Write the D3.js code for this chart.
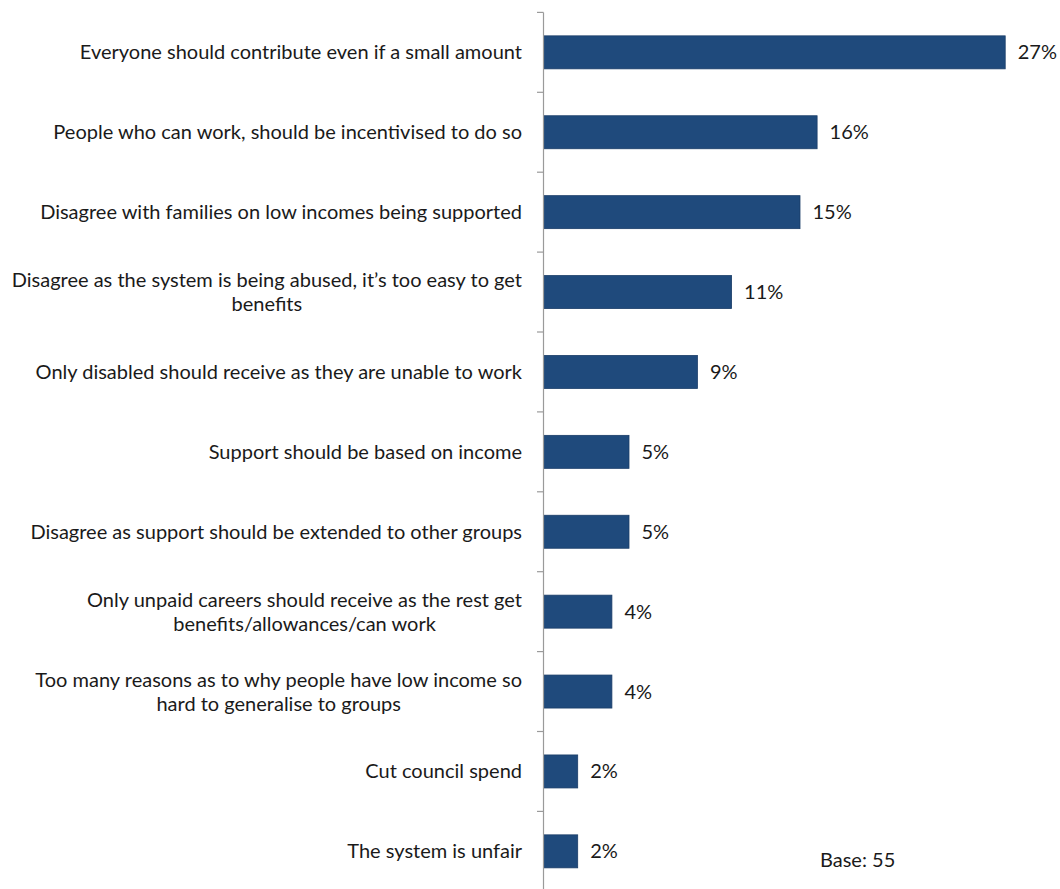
<!DOCTYPE html>
<html>
<head>
<meta charset="utf-8">
<script src="https://cdn.jsdelivr.net/npm/d3@7"></script>
<style>
  html, body { margin: 0; padding: 0; background: #fff; }
  svg { display: block; }
  text { font-family: Lato, "Open Sans", sans-serif; fill: #1a1a1a; }
</style>
</head>
<body>
<svg id="chart" width="1060" height="889"></svg>
<script>
// Reasons given (multi-line labels split on "\n")
const categories = [
  "Everyone should contribute even if a small amount",
  "People who can work, should be incentivised to do so",
  "Disagree with families on low incomes being supported",
  "Disagree as the system is being abused, it\u2019s too easy to get\nbenefits",
  "Only disabled should receive as they are unable to work",
  "Support should be based on income",
  "Disagree as support should be extended to other groups",
  "Only unpaid careers should receive as the rest get\nbenefits/allowances/can work",
  "Too many reasons as to why people have low income so\nhard to generalise to groups",
  "Cut council spend",
  "The system is unfair"
];
// Share of respondents, percent
const values = [27, 16, 15, 11, 9, 5, 5, 4, 4, 2, 2];
const baseNote = "Base: 55";

const svg = d3.select("#chart");
const fontSize = 20;
const lineHeight = 24;

const axisX = 543.5;
const x = d3.scaleLinear().domain([0, 30]).range([axisX, axisX + 30 * 17.1]);
const y = d3.scaleBand()
  .domain(d3.range(categories.length))
  .range([12.4, 891.3])
  .paddingInner(0.587)
  .paddingOuter(0.2935);

// Bars
svg.append("g")
  .selectAll("rect")
  .data(values)
  .join("rect")
  .attr("x", x(0))
  .attr("y", (d, i) => y(i))
  .attr("width", d => x(d) - x(0))
  .attr("height", y.bandwidth())
  .attr("fill", "#1f4a7c")
  .attr("stroke", "#1a3d68")
  .attr("stroke-width", 0.8);

// Category axis: line plus ticks at band boundaries
const step = y.step();
const y0 = y.range()[0];
const axisG = svg.append("g").attr("class", "axis");
axisG.append("line")
  .attr("x1", axisX).attr("x2", axisX)
  .attr("y1", y0).attr("y2", y.range()[1])
  .attr("stroke", "#9a9a9a").attr("stroke-width", 1.2);
axisG.selectAll("line.tick")
  .data(d3.range(categories.length + 1))
  .join("line")
  .attr("class", "tick")
  .attr("x1", axisX - 6.5).attr("x2", axisX)
  .attr("y1", i => y0 + i * step).attr("y2", i => y0 + i * step)
  .attr("stroke", "#9a9a9a").attr("stroke-width", 1.2);

// Category labels: block right-aligned to the axis, lines centred within the block
const labelRight = axisX - 21.5;
const labels = svg.append("g").attr("font-size", fontSize);
categories.forEach((c, i) => {
  const lines = c.split("\n");
  const cy = y(i) + y.bandwidth() / 2;
  const g = labels.append("g");
  const texts = lines.map((ln, k) => g.append("text")
    .attr("y", cy + (k - (lines.length - 1) / 2) * lineHeight)
    .attr("dy", "0.35em")
    .text(ln));
  const widths = texts.map(t => t.node().getComputedTextLength());
  const maxW = d3.max(widths);
  texts.forEach(t => {
    t.attr("x", labelRight - maxW / 2).attr("text-anchor", "middle");
  });
});

// Value labels
svg.append("g")
  .attr("font-size", fontSize)
  .selectAll("text")
  .data(values)
  .join("text")
  .attr("x", d => x(d) + 12.5)
  .attr("y", (d, i) => y(i) + y.bandwidth() / 2)
  .attr("dy", "0.35em")
  .text(d => d + "%");

// Base note
svg.append("text")
  .attr("x", 820)
  .attr("y", 866.5)
  .attr("font-size", fontSize)
  .text(baseNote);
</script>
</body>
</html>
